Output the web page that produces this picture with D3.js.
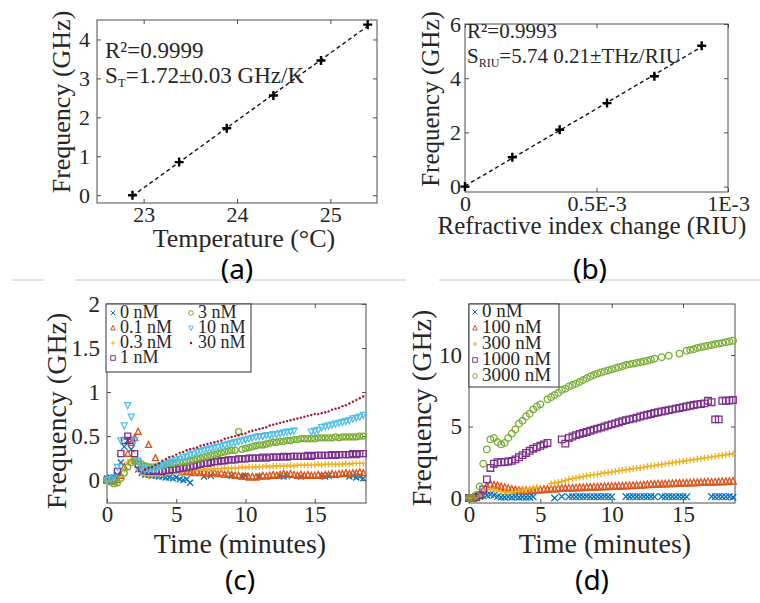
<html>
<head>
<script src="https://d3js.org/d3.v7.min.js"></script>
<style>
  body { margin: 0; background: white; }
  svg text { font-family: "Liberation Serif", "Times New Roman", serif; fill: #262626; }
  svg text.tag { font-family: "Noto Sans", "Open Sans", sans-serif; fill: black; }
</style>
</head>
<body>
<svg id="fig" width="760" height="603"></svg>
<script>
// ---- (a) temperature calibration ----
const tempC = [22.88, 23.38, 23.89, 24.39, 24.9, 25.4];
const tempFreq = [0, 0.85, 1.72, 2.56, 3.46, 4.38];

// ---- (b) refractive index calibration ----
const riuChange = [0, 0.18e-3, 0.36e-3, 0.54e-3, 0.72e-3, 0.9e-3];
const riuFreq = [0, 1.08, 2.1, 3.08, 4.07, 5.2];

// ---- (c), (d) time traces, sampled every 15 s ----
const minutes = [
  0, 0.25, 0.5, 0.75,  1, 1.25, 1.5, 1.75,  2, 2.25, 2.5, 2.75,
  3, 3.25, 3.5, 3.75,  4, 4.25, 4.5, 4.75,  5, 5.25, 5.5, 5.75,
  6, 6.25, 6.5, 6.75,  7, 7.25, 7.5, 7.75,  8, 8.25, 8.5, 8.75,
  9, 9.25, 9.5, 9.75,  10, 10.25, 10.5, 10.75,  11, 11.25, 11.5, 11.75,
  12, 12.25, 12.5, 12.75,  13, 13.25, 13.5, 13.75,  14, 14.25, 14.5, 14.75,
  15, 15.25, 15.5, 15.75,  16, 16.25, 16.5, 16.75,  17, 17.25, 17.5, 17.75,
  18, 18.25, 18.5
];

const concC = ["0 nM", "0.1 nM", "0.3 nM", "1 nM", "3 nM", "10 nM", "30 nM"];
const c0 = [
  0.02, 0.03, 0.03, 0.06,  0.2, 0.38, 0.45, 0.35,  0.22, 0.12, 0.08, 0.06,
  0.06, 0.05, 0.05, 0.04,  0.04, 0.03, 0.03, 0.02,  0.03, 0.01, 0.0, 0.01,
  -0.03, null, null, null,  0.04, null, 0.05, null,  null, null, null, null,
  0.05, null, null, 0.04,  0.05, null, null, null,  0.04, null, null, null,
  null, null, 0.05, 0.04,  0.05, null, null, null,  0.04, null, null, null,
  null, null, 0.05, 0.04,  0.05, null, null, null,  null, null, 0.04, 0.05,
  0.03, 0.04, 0.02
];
const c01 = [
  0.0, 0.0, -0.02, 0.0,  0.05, 0.15, 0.3, 0.42,  0.48, 0.55, null, null,
  0.4, null, 0.25, null,  null, null, null, null,  null, null, 0.09, 0.1,
  0.09, 0.08, 0.1, 0.08,  0.09, 0.07, 0.08, 0.09,  0.07, 0.08, 0.06, 0.07,
  0.06, 0.05, 0.05, 0.04,  0.04, 0.03, 0.04, 0.03,  0.04, 0.05, 0.04, 0.05,
  0.06, 0.05, 0.06, 0.07,  0.06, 0.07, 0.06, 0.05,  0.06, 0.05, 0.06, 0.05,
  0.05, 0.06, 0.05, 0.06,  0.06, 0.07, 0.06, 0.07,  0.07, 0.08, 0.07, 0.08,
  0.08, 0.09, 0.08
];
const c03 = [
  0.0, 0.0, 0.01, 0.03,  0.06, 0.12, 0.2, 0.22,  0.2, 0.12, 0.08, 0.06,
  0.05, 0.05, 0.06, 0.06,  0.07, 0.07, 0.08, 0.08,  0.09, 0.09, 0.1, 0.1,
  0.11, 0.11, 0.12, 0.12,  0.12, 0.13, 0.12, 0.13,  0.13, 0.13, 0.14, 0.13,
  0.14, 0.14, 0.14, 0.15,  0.14, 0.15, 0.15, 0.15,  0.15, 0.15, 0.16, 0.15,
  0.16, 0.16, 0.16, 0.16,  0.16, 0.17, 0.16, 0.17,  0.17, 0.17, 0.17, 0.17,
  0.17, 0.18, 0.17, 0.18,  0.18, 0.18, 0.18, 0.18,  0.18, 0.19, 0.18, 0.19,
  0.19, 0.19, 0.19
];
const c1 = [
  0.0, 0.0, 0.02, 0.1,  0.3, 0.45, 0.5, 0.45,  0.3, 0.18, 0.13, 0.11,
  0.1, 0.1, 0.1, 0.1,  0.1, 0.11, 0.11, 0.12,  0.12, 0.13, 0.14, 0.14,
  0.15, 0.16, 0.17, 0.18,  0.19, 0.19, 0.2, 0.21,  0.21, 0.22, 0.22, 0.23,
  0.23, 0.23, 0.24, 0.24,  0.24, 0.25, 0.25, 0.25,  0.25, 0.26, 0.25, 0.26,
  0.26, 0.26, 0.26, 0.27,  0.26, 0.27, 0.27, 0.27,  0.27, 0.27, 0.28, 0.27,
  0.28, 0.28, 0.28, 0.28,  0.28, 0.29, 0.28, 0.29,  0.29, 0.29, 0.29, 0.3,
  0.29, 0.3, 0.3
];
const c3 = [
  0.0, -0.02, -0.04, -0.03,  0.02, 0.08, 0.15, 0.2,  0.22, 0.21, 0.18, 0.16,
  0.15, 0.15, 0.15, 0.16,  0.17, 0.18, 0.19, 0.19,  0.2, 0.2, 0.21, 0.21,
  0.22, 0.23, 0.24, 0.25,  0.26, 0.27, 0.28, 0.29,  0.3, 0.31, 0.32, 0.33,
  0.34, 0.34, 0.55, 0.35,  0.36, 0.37, 0.38, 0.39,  0.4, 0.4, 0.41, 0.42,
  0.43, 0.43, 0.44, 0.44,  0.45, 0.45, 0.46, 0.46,  0.47, 0.47, 0.47, 0.47,
  0.47, 0.48, 0.48, 0.48,  0.48, 0.48, 0.49, 0.48,  0.49, 0.49, 0.49, 0.49,
  0.49, 0.5, 0.5
];
const c10 = [
  0.0, 0.01, 0.03, 0.15,  0.45, 0.62, 0.85, 0.72,  0.45, 0.22, 0.14, 0.12,
  0.12, 0.13, 0.14, 0.15,  0.17, 0.18, 0.2, 0.21,  0.23, 0.24, 0.26, 0.27,
  0.29, 0.3, 0.32, 0.33,  0.34, 0.35, 0.36, 0.37,  0.38, 0.39, 0.4, 0.41,
  0.42, 0.43, 0.44, 0.45,  0.46, 0.47, 0.48, 0.49,  0.5, 0.5, 0.51, 0.51,
  0.52, 0.52, 0.53, 0.54,  0.55, 0.55, 0.56, null,  null, null, null, 0.55,
  0.56, 0.57, 0.6, 0.61,  0.62, 0.63, 0.64, 0.65,  0.66, 0.67, 0.68, 0.7,
  0.71, 0.72, 0.74
];
const c30 = [
  null, null, null, null,  null, null, null, null,  null, null, null, 0.12,
  0.14, 0.15, 0.17, 0.19,  0.22, 0.24, 0.26, 0.27,  0.29, 0.31, 0.32, 0.34,
  0.35, 0.36, 0.37, 0.39,  0.4, 0.41, 0.42, 0.43,  0.44, 0.45, 0.47, 0.48,
  0.49, 0.5, 0.51, 0.52,  0.53, 0.55, 0.56, 0.57,  0.58, 0.59, 0.6, 0.62,
  0.63, 0.64, 0.65, 0.66,  0.67, 0.68, 0.69, 0.7,  0.71, 0.72, 0.73, 0.74,
  0.75, 0.75, 0.76, 0.77,  0.78, 0.8, 0.81, 0.82,  0.84, 0.85, 0.87, 0.89,
  0.91, 0.93, 0.95
];

const concD = ["0 nM", "100 nM", "300 nM", "1000 nM", "3000 nM"];
const d0 = [
  0.0, 0.0, 0.05, 0.1,  0.15, 0.2, 0.25, 0.2,  0.1, 0.05, 0.05, 0.08,
  0.05, 0.08, 0.05, 0.07,  0.06, 0.05, 0.08, null,  null, null, null, null,
  0.0, null, 0.1, null,  0.08, 0.1, 0.08, 0.1,  0.08, 0.1, 0.08, 0.09,
  0.1, 0.08, 0.1, 0.08,  0.09, null, null, null,  0.1, 0.08, 0.1, 0.09,
  0.08, 0.1, 0.09, 0.1,  0.08, null, 0.1, 0.08,  0.1, 0.09, 0.08, 0.1,
  0.09, 0.08, null, null,  null, null, null, null,  0.1, 0.08, 0.1, 0.09,
  0.08, 0.1, 0.05
];
const d100 = [
  0.0, 0.0, 0.05, 0.2,  0.5, 0.8, 0.95, 0.9,  0.85, 0.78, 0.72, 0.66,
  0.6, 0.56, 0.52, 0.5,  0.5, 0.5, 0.52, 0.54,  0.56, 0.58, 0.6, 0.62,
  0.63, 0.64, 0.66, 0.67,  0.68, 0.69, 0.7, 0.71,  0.72, 0.73, 0.74, 0.75,
  0.76, 0.77, 0.78, 0.79,  0.8, 0.81, 0.82, 0.83,  0.84, 0.85, 0.86, 0.87,
  0.88, 0.9, 0.92, 0.94,  0.95, 0.96, 0.97, 0.98,  0.99, 1.0, 1.01, 1.02,
  1.03, 1.04, 1.05, 1.06,  1.07, 1.08, 1.09, 1.1,  1.1, 1.11, 1.12, 1.13,
  1.14, 1.15, 1.16
];
const d300 = [
  0.0, 0.0, 0.02, 0.15,  0.4, 0.6, 0.62, 0.55,  0.5, 0.45, 0.42, 0.4,
  0.42, 0.45, 0.5, 0.55,  0.6, 0.65, 0.7, 0.75,  null, null, null, 1.0,
  1.05, 1.1, 1.15, 1.22,  1.3, 1.35, 1.4, 1.45,  1.5, 1.55, 1.6, 1.62,
  1.65, 1.7, 1.75, 1.78,  1.82, 1.86, 1.9, 1.94,  1.97, 2.01, 2.05, 2.08,
  2.12, 2.16, 2.2, 2.24,  2.27, 2.31, 2.35, 2.38,  2.42, 2.46, 2.5, 2.53,
  2.57, 2.61, 2.65, 2.68,  2.72, 2.76, 2.8, 2.83,  2.87, 2.91, 2.95, 2.98,
  3.02, 3.06, 3.1
];
const d1000 = [
  0.0, 0.0, 0.05, 0.2,  0.6, 1.3, 2.1, 2.4,  2.5, 2.5, 2.52, 2.55,
  2.6, 2.7, 2.85, 3.0,  3.15, 3.3, 3.45, 3.55,  3.65, 3.75, 3.85, null,
  null, null, 4.1, 3.8,  4.2, 4.3, 4.4, 4.48,  4.55, 4.62, 4.7, 4.78,
  4.85, 4.92, 5.0, 5.08,  5.15, 5.22, 5.3, 5.38,  5.45, 5.5, 5.55, 5.62,
  5.7, 5.76, 5.82, 5.88,  5.95, 6.0, 6.05, 6.1,  6.15, 6.2, 6.25, 6.3,
  6.35, 6.4, 6.45, 6.5,  6.55, 6.58, 6.62, 6.8,  6.7, 5.5, 5.5, 6.8,
  6.8, 6.82, 6.85
];
const d3000 = [
  0.0, 0.0, 0.2, 0.8,  2.4, 3.4, 4.1, 4.2,  3.9, 3.75, 3.85, 4.2,
  4.5, 4.8, 5.2, 5.4,  5.7, 5.9, 6.2, 6.4,  6.55, null, 6.9, 7.05,
  7.2, 7.35, 7.55, 7.65,  7.8, 7.9, 8.0, 8.12,  8.25, 8.38, 8.5, 8.6,
  8.7, 8.78, 8.85, 8.92,  9.0, 9.08, 9.15, 9.22,  9.3, 9.35, 9.4, 9.45,
  9.5, 9.55, 9.6, 9.68,  9.75, null, 9.85, null,  9.95, null, null, 10.1,
  null, 10.3, 10.35, 10.4,  10.5, 10.55, 10.6, 10.65,  10.7, 10.75, 10.8, 10.85,
  10.9, 10.95, 11.0
];

const svg = d3.select("#fig");
const boxColor = "#4d4d4d";
const palette = ["#0072BD", "#D95319", "#EDB120", "#7E2F8E", "#77AC30", "#4DBEEE", "#A2142F"];

function markerPath(shape, r) {
  if (shape === "x") return `M${-r},${-r}L${r},${r}M${-r},${r}L${r},${-r}`;
  if (shape === "+") return `M${-r},0H${r}M0,${-r}V${r}`;
  if (shape === "^") return `M0,${-r * 1.15}L${r},${r * 0.85}L${-r},${r * 0.85}Z`;
  if (shape === "v") return `M0,${r * 1.15}L${r},${-r * 0.85}L${-r},${-r * 0.85}Z`;
  if (shape === "s") return `M${-r},${-r}H${r}V${r}H${-r}Z`;
  if (shape === "o") return d3.symbol(d3.symbolCircle, Math.PI * r * r)();
  return d3.symbol(d3.symbolCircle, Math.PI * 1.4)();
}

function drawMarker(sel, shape, color, r, w) {
  sel.append("path")
    .attr("d", markerPath(shape, r))
    .attr("fill", shape === "." ? color : "none")
    .attr("stroke", shape === "." ? "none" : color)
    .attr("stroke-width", w || 1);
}

// axes with MATLAB style box and inward ticks
function axes(p) {
  const x = d3.scaleLinear().domain(p.xDomain).range([p.left, p.right]);
  const y = d3.scaleLinear().domain(p.yDomain).range([p.bottom, p.top]);
  const g = svg.append("g");
  const tidy = sel => {
    sel.select(".domain").remove();
    sel.selectAll(".tick line").attr("stroke", boxColor);
    sel.selectAll("text")
      .attr("font-family", "Liberation Serif, serif")
      .attr("font-size", p.tickFont)
      .attr("fill", "#262626");
  };
  g.append("g").attr("transform", `translate(0,${p.bottom})`)
    .call(d3.axisBottom(x).tickValues(p.xTicks).tickFormat(p.xFormat)
      .tickSize(-4).tickSizeOuter(0).tickPadding(p.xPad))
    .call(tidy);
  g.append("g").attr("transform", `translate(0,${p.top})`)
    .call(d3.axisTop(x).tickValues(p.xTicks).tickFormat("").tickSize(-4).tickSizeOuter(0))
    .call(tidy);
  g.append("g").attr("transform", `translate(${p.left},0)`)
    .call(d3.axisLeft(y).tickValues(p.yTicks).tickFormat(p.yFormat)
      .tickSize(-4).tickSizeOuter(0).tickPadding(p.yPad))
    .call(tidy);
  g.append("g").attr("transform", `translate(${p.right},0)`)
    .call(d3.axisRight(y).tickValues(p.yTicks).tickFormat("").tickSize(-4).tickSizeOuter(0))
    .call(tidy);
  g.append("rect")
    .attr("x", p.left).attr("y", p.top)
    .attr("width", p.right - p.left).attr("height", p.bottom - p.top)
    .attr("fill", "none").attr("stroke", boxColor).attr("stroke-width", 1);

  svg.append("text")
    .attr("x", p.xTitlePos[0]).attr("y", p.xTitlePos[1])
    .attr("text-anchor", "middle").attr("font-size", p.titleFont)
    .text(p.xTitle);
  svg.append("text")
    .attr("transform", `translate(${p.yTitlePos[0]},${p.yTitlePos[1]}) rotate(-90)`)
    .attr("text-anchor", "middle").attr("font-size", p.titleFont)
    .text(p.yTitle);
  return { x, y, g };
}

// separator line and panel tags
[[12, 44], [75, 406], [439, 760]].forEach(s => {
  svg.append("line").attr("x1", s[0]).attr("x2", s[1]).attr("y1", 280).attr("y2", 280)
    .attr("stroke", "#c8c8c8").attr("stroke-width", 1);
});
[["(a)", 237, 279], ["(b)", 590, 279], ["(c)", 240, 590], ["(d)", 592, 590]].forEach(t => {
  svg.append("text").attr("class", "tag").attr("x", t[1]).attr("y", t[2])
    .attr("text-anchor", "middle").attr("font-size", 28).text(t[0]);
});

// ---------- (a) ----------
const A = axes({
  left: 97, right: 377, top: 20, bottom: 203,
  xDomain: [22.5, 25.5], yDomain: [-0.2, 4.5],
  xTicks: [23, 24, 25], yTicks: [0, 1, 2, 3, 4],
  xFormat: d3.format("d"), yFormat: d3.format("d"),
  xPad: 3, yPad: 7, tickFont: 22, titleFont: 26,
  xTitle: "Temperature (°C)", xTitlePos: [244, 247],
  yTitle: "Frequency (GHz)", yTitlePos: [70, 102]
});

function fitLine(ax, xs, ys, x0, x1) {
  const mx = d3.mean(xs), my = d3.mean(ys);
  const k = d3.sum(xs, (v, i) => (v - mx) * (ys[i] - my)) / d3.sum(xs, v => (v - mx) ** 2);
  ax.g.append("line")
    .attr("x1", ax.x(x0)).attr("y1", ax.y(my + k * (x0 - mx)))
    .attr("x2", ax.x(x1)).attr("y2", ax.y(my + k * (x1 - mx)))
    .attr("stroke", "#111").attr("stroke-width", 1.4).attr("stroke-dasharray", "4,3");
}

function crosses(ax, xs, ys) {
  xs.forEach((v, i) => {
    ax.g.append("path")
      .attr("transform", `translate(${ax.x(v)},${ax.y(ys[i])})`)
      .attr("d", markerPath("+", 4.5))
      .attr("stroke", "#000").attr("stroke-width", 2.4).attr("fill", "none");
  });
}

fitLine(A, tempC, tempFreq, tempC[0], tempC[tempC.length - 1]);
crosses(A, tempC, tempFreq);

svg.append("text").attr("x", 105).attr("y", 58).attr("font-size", 23).text("R²=0.9999");
svg.append("text").attr("x", 105).attr("y", 83).attr("font-size", 23)
  .call(t => {
    t.append("tspan").text("S");
    t.append("tspan").attr("font-size", 13).attr("dy", 4).text("T");
    t.append("tspan").attr("dy", -4).text("=1.72±0.03 GHz/K");
  });

// ---------- (b) ----------
const B = axes({
  left: 465, right: 728, top: 24, bottom: 192,
  xDomain: [0, 1e-3], yDomain: [-0.2, 6],
  xTicks: [0, 0.5e-3, 1e-3], yTicks: [0, 2, 4, 6],
  xFormat: d => d === 0 ? "0" : (d === 0.5e-3 ? "0.5E-3" : "1E-3"),
  yFormat: d3.format("d"),
  xPad: 3, yPad: 4, tickFont: 22, titleFont: 25,
  xTitle: "Refractive index change (RIU)", xTitlePos: [592, 234],
  yTitle: "Frequency (GHz)", yTitlePos: [439, 99]
});
fitLine(B, riuChange, riuFreq, 0, riuChange[riuChange.length - 1]);
crosses(B, riuChange, riuFreq);

svg.append("text").attr("x", 467).attr("y", 38).attr("font-size", 21).text("R²=0.9993");
svg.append("text").attr("x", 467).attr("y", 63).attr("font-size", 21)
  .call(t => {
    t.append("tspan").text("S");
    t.append("tspan").attr("font-size", 12).attr("dy", 4).text("RIU");
    t.append("tspan").attr("dy", -4).text("=5.74 0.21±THz/RIU");
  });

// ---------- (c) ----------
const C = axes({
  left: 107, right: 366, top: 304, bottom: 503,
  xDomain: [0, 18.7], yDomain: [-0.26, 2],
  xTicks: [0, 5, 10, 15], yTicks: [0, 0.5, 1, 1.5, 2],
  xFormat: d3.format("d"), yFormat: d3.format(""),
  xPad: 3, yPad: 7, tickFont: 23, titleFont: 28,
  xTitle: "Time (minutes)", xTitlePos: [240, 553],
  yTitle: "Frequency (GHz)", yTitlePos: [66, 411]
});
const seriesC = [c0, c01, c03, c1, c3, c10, c30];
const shapesC = ["x", "^", "+", "s", "o", "v", "."];

function scatter(ax, series, shapes, r, w) {
  series.forEach((vals, k) => {
    const pts = minutes.map((t, i) => [t, vals[i]]).filter(d => d[1] !== null && d[1] !== undefined);
    ax.g.append("g").selectAll("g").data(pts).join("g")
      .attr("transform", d => `translate(${ax.x(d[0])},${ax.y(d[1])})`)
      .each(function() { drawMarker(d3.select(this), shapes[k], palette[k], r, w); });
  });
}
scatter(C, seriesC, shapesC, 3, 1.3);

function legend(ax, box, labels, shapes, rows, colX, font) {
  ax.g.append("rect")
    .attr("x", box[0]).attr("y", box[1]).attr("width", box[2] - box[0]).attr("height", box[3] - box[1])
    .attr("fill", "white").attr("stroke", "#333").attr("stroke-width", 1);
  labels.forEach((lab, k) => {
    const col = Math.floor(k / rows.length);
    const yy = rows[k % rows.length];
    const m = ax.g.append("g").attr("transform", `translate(${colX[col][0]},${yy - 5})`);
    drawMarker(m, shapes[k], palette[k], 2.3, 1);
    ax.g.append("text").attr("x", colX[col][1]).attr("y", yy)
      .attr("font-size", font).text(lab);
  });
}
legend(C, [106, 304, 251, 372], concC, shapesC, [318, 333, 348, 363],
  [[113, 120], [191, 198]], 18);

// ---------- (d) ----------
const D = axes({
  left: 469, right: 735, top: 304, bottom: 503,
  xDomain: [0, 18.64], yDomain: [-0.35, 13.57],
  xTicks: [0, 5, 10, 15], yTicks: [0, 5, 10],
  xFormat: d3.format("d"), yFormat: d3.format("d"),
  xPad: 3, yPad: 7, tickFont: 23, titleFont: 28,
  xTitle: "Time (minutes)", xTitlePos: [605, 553],
  yTitle: "Frequency (GHz)", yTitlePos: [431, 408]
});
const seriesD = [d0, d100, d300, d1000, d3000];
const shapesD = ["x", "^", "+", "s", "o"];
scatter(D, seriesD, shapesD, 3.3, 1.3);
legend(D, [469, 304, 559, 387], concD, shapesD, [317, 333, 349, 365, 381],
  [[475, 482]], 19);
</script>
</body>
</html>
